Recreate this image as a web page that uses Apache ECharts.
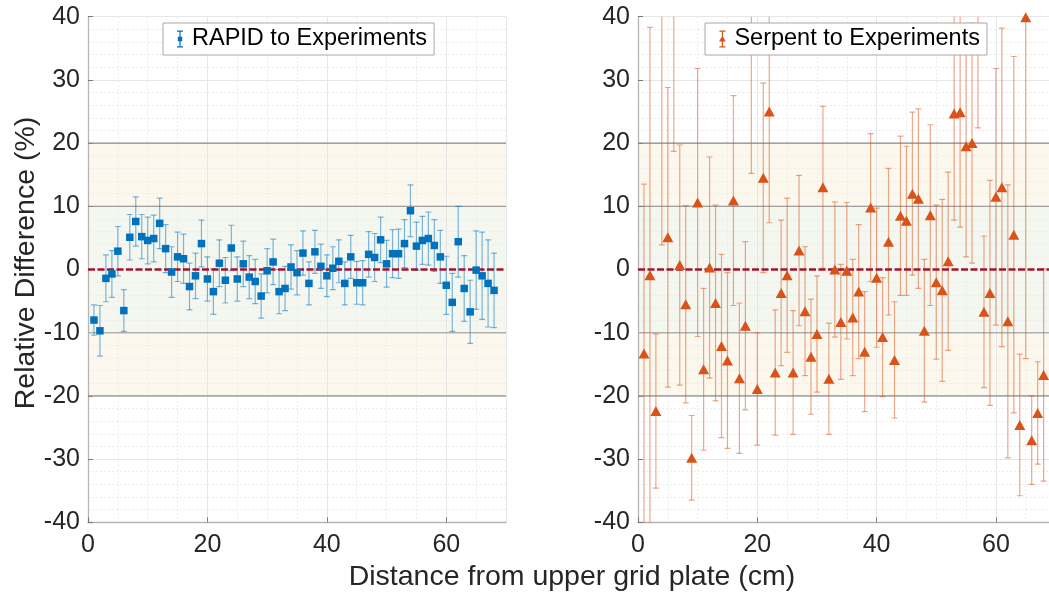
<!DOCTYPE html>
<html><head><meta charset="utf-8">
<script src="https://cdn.jsdelivr.net/npm/echarts@6/dist/echarts.min.js"></script>
<style>html,body{margin:0;padding:0;background:#fff}#c{width:1049px;height:594px}</style>
</head><body><div id="c"></div>
<script>
// ---- data ----
const positions = [1,2,3,4,5,6,7,8,9,10,11,12,13,14,15,16,17,18,19,20,21,22,23,24,25,26,27,28,29,30,31,32,33,34,
  35,36,37,38,39,40,41,42,43,44,45,46,47,48,49,50,51,52,53,54,55,56,57,58,59,60,61,62,63,64,65,66,67,68];
const rapidDiff = [-8.0,-9.7,-1.4,-0.7,2.9,-6.5,5.1,7.6,5.2,4.6,4.9,7.3,3.3,-0.4,2.0,1.7,-2.7,-1.0,4.1,-1.5,
  -3.5,1.0,-1.7,3.4,-1.5,0.9,-1.2,-1.9,-4.2,-0.2,1.2,-3.5,-3.0,0.4,-0.5,2.6,-2.2,2.8,0.5,-1.0,
  0.2,1.3,-2.2,2.0,-2.1,-2.1,2.4,1.9,4.7,0.9,2.5,2.5,4.1,9.3,3.7,4.6,4.9,3.8,2.0,-2.5,
  -5.2,4.4,-3.0,-6.7,-0.1,-1.0,-2.2,-3.3];
const rapidErr = [2.4,4.0,3.7,3.7,3.9,3.3,3.6,3.9,3.5,3.7,3.7,4.0,3.8,4.0,3.9,3.9,3.7,3.6,3.7,3.5,
  3.6,3.7,3.6,3.6,3.5,3.6,3.4,3.5,3.5,3.5,3.6,3.5,3.5,3.5,3.5,3.5,3.4,3.4,3.5,3.3,
  3.4,3.4,3.4,3.4,3.4,3.5,3.6,3.8,3.6,3.7,3.8,3.9,3.8,4.1,3.8,3.8,4.2,4.1,4.2,4.6,
  4.6,5.6,5.2,5.0,6.2,6.9,6.9,5.9];
const serpentDiff = [-13.3,-0.9,-22.4,45.0,5.1,48.0,0.7,-5.5,-29.8,10.6,-15.8,0.3,-5.3,-12.1,-14.4,10.9,-17.2,-8.9,42.0,-18.9,
  14.5,25.0,-16.3,-3.7,-0.9,-16.3,3.0,-6.6,-13.8,-10.2,13.0,-17.3,0.0,-8.3,-0.2,-7.6,-3.5,-13.0,9.8,-1.3,
  -10.7,4.4,-14.3,8.5,7.7,12.0,11.2,-9.7,8.6,-2.0,-3.3,1.3,24.7,24.9,19.5,20.0,45.0,-6.7,-3.7,11.5,
  13.0,-8.2,5.5,-24.6,39.9,-27.0,-22.7,-16.7];
const serpentErr = [26.8,39.2,12.2,41.1,23.7,29.3,19.0,15.6,6.7,21.2,12.8,17.5,15.5,14.5,13.9,16.6,11.9,13.3,26.8,8.9,
  15.0,17.6,9.9,11.5,12.2,9.8,11.9,10.2,9.1,9.2,12.8,8.8,10.7,9.1,10.8,9.2,10.6,9.5,11.7,11.0,
  9.4,11.6,9.2,12.6,11.8,12.9,14.2,11.3,14.3,12.2,14.4,14.1,16.9,18.2,17.5,19.0,22.6,12.0,17.8,20.3,
  25.2,21.6,28.2,11.2,54.0,7.0,8.1,16.8];
const outerBand = [-20, 20];
const innerBand = [-10, 10];
const refLines = [-20, -10, 10, 20];
const zeroLine = [0];
const seriesNames = ['RAPID to Experiments', 'Serpent to Experiments'];
const xLabel = 'Distance from upper grid plate (cm)';
const yLabel = 'Relative Difference (%)';

// ---- styles ----
const FONT = 'Liberation Sans, Arial, Helvetica, sans-serif';
const TXT = '#262626';
const BLUE = '#0072BD', ORANGE = '#D95319';
const BLUE_ERR = 'rgba(0,114,189,0.5)', ORANGE_ERR = 'rgba(217,83,25,0.5)';
const bandColors = ['#fcf8ed', '#f4f7ef'];
const refColors = {'-20': '#909090', '-10': '#b0b0b0', '10': '#888888', '20': '#8a8a8a'};
const refWidths = {'-20': 1.1, '-10': 1.6, '10': 1.1, '20': 1.1};

function xAxis(gi, max) {
  return {
    gridIndex: gi, type: 'value', min: 0, max: max, interval: 20,
    axisLine: {show: true, onZero: false, lineStyle: {color: '#b5b5b5', width: 1.3}},
    axisTick: {show: true, inside: true, length: 5, lineStyle: {color: '#7a7a7a'}},
    axisLabel: {fontSize: 25, color: TXT, fontFamily: FONT, margin: 10, showMaxLabel: false,
      formatter: v => (v % 20 === 0 ? String(v) : '')},
    splitLine: {show: true, lineStyle: {color: '#e6e6e6', width: 1}},
    minorTick: {show: false, splitNumber: 4},
    minorSplitLine: {show: true, lineStyle: {color: '#ececec', type: [2, 2], width: 1}}
  };
}
function yAxis(gi) {
  return {
    gridIndex: gi, type: 'value', min: -40, max: 40, interval: 10,
    axisLine: {show: true, onZero: false, lineStyle: {color: '#b5b5b5', width: 1.3}},
    axisTick: {show: true, inside: true, length: 5, lineStyle: {color: '#7a7a7a'}},
    axisLabel: {fontSize: 25, color: TXT, fontFamily: FONT, margin: 8},
    splitLine: {show: true, lineStyle: {color: '#e6e6e6', width: 1}},
    minorTick: {show: false, splitNumber: 5},
    minorSplitLine: {show: true, lineStyle: {color: '#ececec', type: [2, 2], width: 1}}
  };
}

function bandSeries(gi) {
  return {
    type: 'custom', xAxisIndex: gi, yAxisIndex: gi, z: -1, silent: true,
    data: [outerBand, innerBand],
    encode: {y: [0, 1]},
    renderItem: (params, api) => {
      const cs = params.coordSys;
      const y0 = api.coord([0, api.value(0)])[1];
      const y1 = api.coord([0, api.value(1)])[1];
      return {type: 'rect', shape: {x: cs.x, y: y1, width: cs.width, height: y0 - y1},
        style: {fill: bandColors[params.dataIndex]}};
    }
  };
}
function hLineSeries(gi, values, styleFn, z) {
  return {
    type: 'custom', xAxisIndex: gi, yAxisIndex: gi, z: z, silent: true,
    data: values.map(v => [v]),
    encode: {y: 0},
    renderItem: (params, api) => {
      const cs = params.coordSys;
      const v = api.value(0);
      const y = api.coord([0, v])[1];
      return {type: 'line', shape: {x1: cs.x, y1: y, x2: cs.x + cs.width, y2: y}, style: styleFn(v)};
    }
  };
}
function errSeries(gi, diff, err, color) {
  return {
    type: 'custom', xAxisIndex: gi, yAxisIndex: gi, z: 2, clip: true, silent: true,
    data: positions.map((x, i) => [x, diff[i] - err[i], diff[i] + err[i]]),
    encode: {x: 0, y: [1, 2]},
    renderItem: (params, api) => {
      const x = api.value(0);
      const a = api.coord([x, api.value(1)]);
      const b = api.coord([x, api.value(2)]);
      const h = 3;
      const st = {stroke: color, lineWidth: 1.2};
      return {type: 'group', children: [
        {type: 'line', shape: {x1: a[0], y1: a[1], x2: b[0], y2: b[1]}, style: st},
        {type: 'line', shape: {x1: a[0] - h, y1: a[1], x2: a[0] + h, y2: a[1]}, style: st},
        {type: 'line', shape: {x1: b[0] - h, y1: b[1], x2: b[0] + h, y2: b[1]}, style: st}
      ]};
    }
  };
}
const refStyle = v => ({stroke: refColors[String(v)], lineWidth: refWidths[String(v)]});
const zeroStyle = () => ({stroke: '#A2142F', lineWidth: 2.6, lineDash: [7, 2.5]});

const iconPath = 'path://M0,0h6v1.2h-6z M2.4,0h1.2v17h-1.2z M0,15.8h6v1.2h-6z M0.8,6.3h4.4v4.4h-4.4z';
const iconPathTri = 'path://M0,0h6v1.2h-6z M2.4,0h1.2v17h-1.2z M0,15.8h6v1.2h-6z M3,5.3L6.4,11L-0.4,11z';
function legend(name, left, icon) {
  return {
    data: [{name: name, icon: icon}], left: left, top: 23, orient: 'horizontal',
    selectedMode: false, z: 10,
    itemWidth: 14, itemHeight: 17, itemGap: 0,
    padding: [4, 7, 4, 14],
    borderColor: '#a8a8a8', borderWidth: 1, backgroundColor: '#ffffff',
    textStyle: {fontSize: 23.5, color: '#000', fontFamily: FONT, lineHeight: 23}
  };
}

const chart = echarts.init(document.getElementById('c'), null, {renderer: 'canvas'});
chart.setOption({
  animation: false,
  backgroundColor: '#ffffff',
  grid: [
    {left: 88, top: 16.7, width: 418, height: 505.6, containLabel: false},
    {left: 638, top: 16.7, width: 411, height: 505.6, containLabel: false}
  ],
  xAxis: [xAxis(0, 70), xAxis(1, 68.9)],
  yAxis: [yAxis(0), yAxis(1)],
  legend: [legend(seriesNames[0], 163, iconPath), legend(seriesNames[1], 705, iconPathTri)],
  graphic: [
    {type: 'text', x: 572, y: 577, silent: true,
      style: {text: xLabel, font: '28.5px ' + FONT, fill: TXT, textAlign: 'center', textVerticalAlign: 'middle'}},
    {type: 'text', x: 26, y: 263, rotation: Math.PI / 2, silent: true,
      style: {text: yLabel, font: '28.5px ' + FONT, fill: TXT, textAlign: 'center', textVerticalAlign: 'middle'}}
  ],
  series: [
    bandSeries(0), bandSeries(1),
    hLineSeries(0, refLines, refStyle, 1), hLineSeries(1, refLines, refStyle, 1),
    errSeries(0, rapidDiff, rapidErr, BLUE_ERR),
    errSeries(1, serpentDiff, serpentErr, ORANGE_ERR),
    hLineSeries(0, zeroLine, zeroStyle, 3), hLineSeries(1, zeroLine, zeroStyle, 3),
    {name: seriesNames[0], type: 'scatter', xAxisIndex: 0, yAxisIndex: 0, z: 4, clip: true,
      symbol: 'rect', symbolSize: 7.5, itemStyle: {color: BLUE, opacity: 1},
      data: positions.map((x, i) => [x, rapidDiff[i]])},
    {name: seriesNames[1], type: 'scatter', xAxisIndex: 1, yAxisIndex: 1, z: 4, clip: true,
      symbol: 'triangle', symbolSize: [11, 10], itemStyle: {color: ORANGE, opacity: 1},
      data: positions.map((x, i) => [x, serpentDiff[i]])}
  ]
});
</script></body></html>
